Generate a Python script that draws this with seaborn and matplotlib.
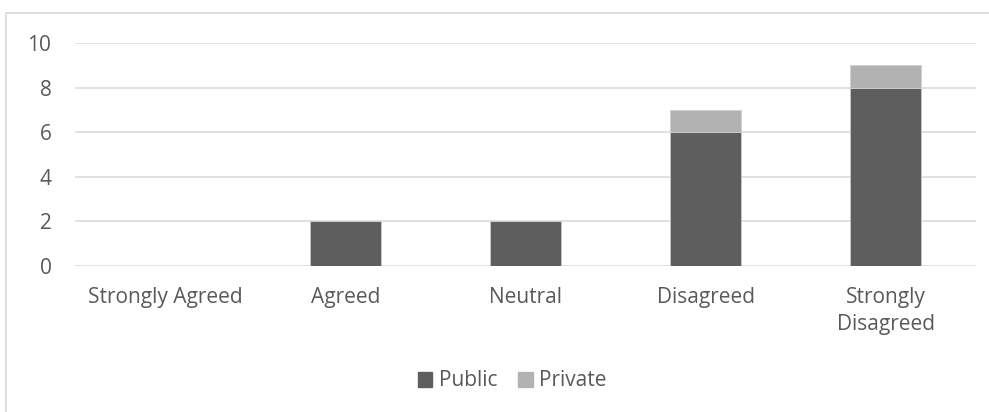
import matplotlib
matplotlib.use("Agg")
import matplotlib.pyplot as plt
import seaborn as sns
import pandas as pd
from matplotlib.patches import Rectangle

categories = ["Strongly Agreed", "Agreed", "Neutral", "Disagreed", "Strongly\nDisagreed"]
public = [0, 2, 2, 6, 8]
private = [0, 0, 0, 1, 1]
yticks = [0, 2, 4, 6, 8, 10]

sns.set_theme(style="white")
plt.rcParams["font.family"] = ["Open Sans", "DejaVu Sans"]

df = pd.DataFrame({"cat": categories, "Public": public, "Private": private})

fig = plt.figure(figsize=(9.89, 4.12), dpi=100)
ax = fig.add_axes([75/989, (412-266)/412, (976-75)/989, (266-43)/412])

c_pub = "#5e5e5e"
c_priv = "#b2b2b2"
sns.barplot(data=df, x="cat", y="Public", color=c_pub, width=0.394, ax=ax,
            edgecolor="#c8c8c8", linewidth=0.6, saturation=1, zorder=3)
sns.barplot(data=df, x="cat", y="Private", color=c_priv, width=0.394, ax=ax,
            bottom=df["Public"], edgecolor="#d0d0d0", linewidth=0.6, saturation=1, zorder=3)

ax.set_ylim(0, 10)
ax.set_xlim(-0.5, 4.5)
ax.set_yticks(yticks)
ax.yaxis.grid(True, color="#d9d9d9", linewidth=1.1)
ax.set_axisbelow(True)
for s in ax.spines.values():
    s.set_visible(False)
ax.set_xlabel("")
ax.set_ylabel("")
ax.tick_params(axis="y", length=0, pad=17, labelsize=15, labelcolor="#595959")
ax.tick_params(axis="x", length=0, pad=15, labelsize=15, labelcolor="#595959")
for lbl in ax.get_xticklabels():
    lbl.set_verticalalignment("top")
    lbl.set_linespacing(1.4)

handles = [Rectangle((0, 0), 1, 1, color=c_pub), Rectangle((0, 0), 1, 1, color=c_priv)]
fig.legend(handles, ["Public", "Private"], loc="center", bbox_to_anchor=(512/989, 1-381/412),
           ncol=2, frameon=False, fontsize=15, labelcolor="#595959",
           handlelength=0.7, handleheight=0.7, handletextpad=0.3, columnspacing=1.0,
           borderpad=0, borderaxespad=0)

border = Rectangle((6/989, -0.1), 1.2, (412-13)/412 + 0.1, transform=fig.transFigure,
                   fill=False, edgecolor="#d9d9d9", linewidth=1.2)
fig.patches.append(border)

fig.savefig("out.png", dpi=100)
